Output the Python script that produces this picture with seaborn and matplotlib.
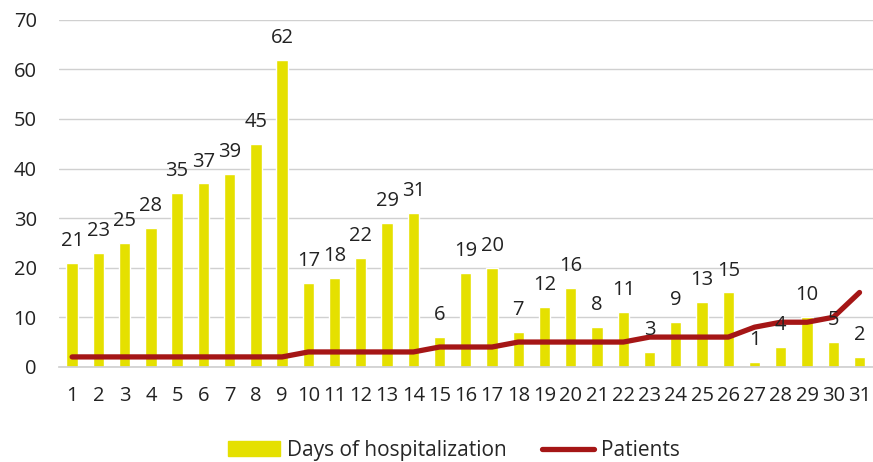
import numpy as np
import pandas as pd
import matplotlib
matplotlib.use("Agg")
import matplotlib.pyplot as plt
import seaborn as sns
from matplotlib.lines import Line2D
from matplotlib.patches import Patch

days = [str(d) for d in range(1, 32)]
hospitalization = [21, 23, 25, 28, 35, 37, 39, 45, 62, 17, 18, 22, 29, 31, 6,
                   19, 20, 7, 12, 16, 8, 11, 3, 9, 13, 15, 1, 4, 10, 5, 2]
patients = [2, 2, 2, 2, 2, 2, 2, 2, 2, 3, 3, 3, 3, 3, 4,
            4, 4, 5, 5, 5, 5, 5, 6, 6, 6, 6, 8, 9, 9, 10, 15]

BAR_COLOR = "#E5E000"
LINE_COLOR = "#A51616"
FS = 14.5

sns.set_theme(style="white")
plt.rcParams["font.family"] = ["Open Sans", "DejaVu Sans"]

df = pd.DataFrame({"day": days, "hosp": hospitalization, "patients": patients})

fig = plt.figure(figsize=(8.73, 4.62), dpi=100)
ax = fig.add_axes([0.0676, 0.206, 0.932, 0.751])

sns.barplot(data=df, x="day", y="hosp", color=BAR_COLOR, saturation=1,
            width=0.43, ax=ax, zorder=2)
ax.plot(np.arange(len(days)), df["patients"], color=LINE_COLOR,
        linewidth=3.8, solid_capstyle="round", zorder=3)

for i, v in enumerate(hospitalization):
    ax.text(i, v + 2.4, str(v), ha="center", va="bottom", fontsize=FS,
            color="#222222", zorder=4)

ax.set_ylim(0, 70)
ax.set_xlim(-0.5, len(days) - 0.5)
ax.set_yticks(range(0, 71, 10))
ax.yaxis.grid(True, color="#d0d0d0", linewidth=1)
ax.set_axisbelow(True)
for s in ["top", "right", "left"]:
    ax.spines[s].set_visible(False)
ax.spines["bottom"].set_color("#d0d0d0")
ax.set_xlabel("")
ax.set_ylabel("")
ax.tick_params(axis="both", labelsize=FS, colors="#222222", length=0)
ax.tick_params(axis="x", pad=14)
ax.tick_params(axis="y", pad=16)

handles = [Patch(color=BAR_COLOR, label="Days of hospitalization"),
           Line2D([0], [0], color=LINE_COLOR, linewidth=3.8, label="Patients")]
fig.legend(handles=handles, loc="center", bbox_to_anchor=(0.52, 0.025),
           ncol=2, frameon=False, fontsize=15, handlelength=2.5,
           columnspacing=1.7, handletextpad=0.35)

fig.savefig("out.png", dpi=100)
